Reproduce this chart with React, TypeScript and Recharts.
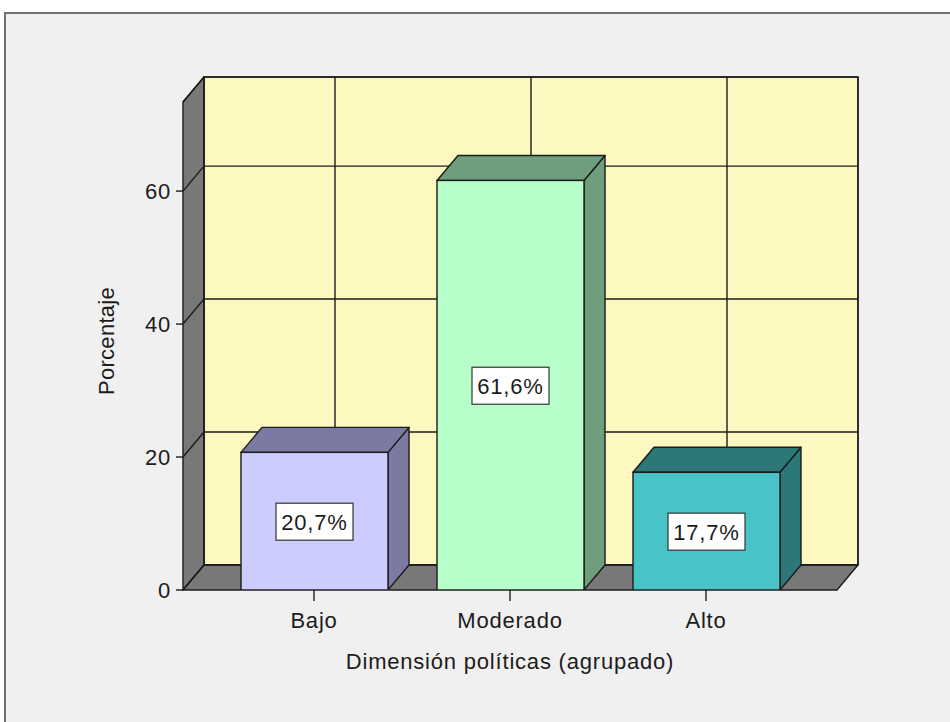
import { BarChart, Bar, XAxis, YAxis, CartesianGrid, LabelList, Label } from "recharts";

// Dimensión políticas (agrupado) — porcentaje por nivel
const categories = ["Bajo", "Moderado", "Alto"];
const percentages = [20.7, 61.6, 17.7];
const yTicks = [0, 20, 40, 60];

const frontColors = ["#CCCCFF", "#B7FECA", "#48C3C7"];
const shadeColors = ["#7B7BA2", "#6E9E7B", "#2C7778"];

const Y_MAX = 73.4;
const DX = 21;
const DY = -25;
const INK = "#1c1c1c";
const FONT = "'Liberation Sans', Arial, sans-serif";
const W = 950;
const H = 722;
const YAXIS_W = 90;
const XAXIS_H = 90;

const data = categories.map((name, i) => ({ name, value: percentages[i] }));

function renderHorizontal(p: any) {
  const { x1, x2, y1, index } = p;
  const top = p.y ?? 102;
  const bottom = top + (p.height ?? 488);
  const left = p.x ?? x1;
  const right = left + (p.width ?? x2 - x1);
  return (
    <g key={`h-${index}`}>
      {index === 0 && (
        <g>
          <rect
            x={left + DX}
            y={top + DY}
            width={right - left}
            height={bottom - top}
            fill="#FCF8BF"
            stroke={INK}
            strokeWidth={1.4}
          />
          <path
            d={`M${left},${bottom} L${left},${top} L${left + DX},${top + DY} L${left + DX},${bottom + DY} Z`}
            fill="#787878"
            stroke={INK}
            strokeWidth={1.4}
            strokeLinejoin="round"
          />
          <path
            d={`M${left},${bottom} L${right},${bottom} L${right + DX},${bottom + DY} L${left + DX},${bottom + DY} Z`}
            fill="#787878"
            stroke={INK}
            strokeWidth={1.4}
            strokeLinejoin="round"
          />
        </g>
      )}
      <path
        d={`M${x1},${y1} L${x1 + DX},${y1 + DY} L${x2 + DX},${y1 + DY}`}
        fill="none"
        stroke={INK}
        strokeWidth={1.4}
      />
    </g>
  );
}

function renderVertical(p: any) {
  const { x1, y1, y2, index } = p;
  return (
    <line
      key={`v-${index}`}
      x1={x1 + DX}
      y1={y1 + DY}
      x2={x1 + DX}
      y2={y2 + DY}
      stroke={INK}
      strokeWidth={1.4}
    />
  );
}

function Box3D(props: any) {
  const { x, y, width, height, index } = props;
  const front = frontColors[index % frontColors.length];
  const shade = shadeColors[index % shadeColors.length];
  const top = `M${x},${y} L${x + DX},${y + DY} L${x + width + DX},${y + DY} L${x + width},${y} Z`;
  const side = `M${x + width},${y} L${x + width + DX},${y + DY} L${x + width + DX},${y + height + DY} L${x + width},${y + height} Z`;
  return (
    <g>
      <path d={side} fill={shade} stroke={INK} strokeWidth={1.4} strokeLinejoin="round" />
      <path d={top} fill={shade} stroke={INK} strokeWidth={1.4} strokeLinejoin="round" />
      <rect x={x} y={y} width={width} height={height} fill={front} stroke={INK} strokeWidth={1.4} />
    </g>
  );
}

function ValueBox(props: any) {
  const vb = props.viewBox ?? props;
  const x = props.x ?? vb.x;
  const y = props.y ?? vb.y;
  const width = props.width ?? vb.width;
  const height = props.height ?? vb.height;
  const cx = x + width / 2;
  const cy = y + height / 2;
  const text = `${Number(props.value).toFixed(1).replace(".", ",")}%`;
  return (
    <g>
      <rect x={cx - 38.5} y={cy - 18} width={77} height={37} fill="#ffffff" stroke="#333" strokeWidth={1.2} />
      <text
        x={cx}
        y={cy + 9}
        textAnchor="middle"
        fontFamily={FONT}
        fontSize={22}
        letterSpacing={0.8}
        fill={INK}
      >
        {text}
      </text>
    </g>
  );
}

const tickStyle = { fontSize: 22, fill: INK, fontFamily: FONT, letterSpacing: 0.8 };

export default function App() {
  return (
    <div style={{ position: "absolute", left: 0, top: 0, width: W, height: H, background: "#fff", overflow: "hidden" }}>
      <div
        style={{
          position: "absolute",
          left: 4,
          top: 12,
          width: 1000,
          height: 800,
          background: "#F0F0F0",
          borderLeft: "2px solid #707070",
          borderTop: "2px solid #707070",
        }}
      />
      <div style={{ position: "absolute", left: 0, top: 0 }}>
        <BarChart
          width={W}
          height={H}
          data={data}
          margin={{ top: 102, right: W - 837, bottom: H - 590 - XAXIS_H, left: 183 - YAXIS_W }}
        >
          <CartesianGrid stroke={INK} horizontal={renderHorizontal} vertical={renderVertical} />
          <XAxis
            dataKey="name"
            height={XAXIS_H}
            padding={{ left: 33, right: 33 }}
            axisLine={false}
            tickLine={{ stroke: INK, strokeWidth: 1.4 }}
            tickSize={11}
            tickMargin={11}
            tick={tickStyle}
          >
            <Label
              content={(p: any) => {
                const vb = p.viewBox;
                return (
                  <text
                    x={vb.x + vb.width / 2}
                    y={vb.y + 79}
                    textAnchor="middle"
                    fontFamily={FONT}
                    fontSize={22}
                    letterSpacing={0.8}
                    fill={INK}
                  >
                    Dimensión políticas (agrupado)
                  </text>
                );
              }}
            />
          </XAxis>
          <YAxis
            type="number"
            width={YAXIS_W}
            domain={[0, Y_MAX]}
            ticks={yTicks}
            allowDataOverflow
            axisLine={false}
            tickLine={{ stroke: INK, strokeWidth: 1.4 }}
            tickSize={7}
            tickMargin={5}
            tick={tickStyle}
          >
            <Label
              content={(p: any) => {
                const vb = p.viewBox;
                const lx = vb.x + 13;
                const ly = vb.y + vb.height / 2 - 5;
                return (
                  <text
                    x={lx}
                    y={ly}
                    transform={`rotate(-90 ${lx} ${ly})`}
                    textAnchor="middle"
                    dominantBaseline="central"
                    fontFamily={FONT}
                    fontSize={22}
                    letterSpacing={0.3}
                    fill={INK}
                  >
                    Porcentaje
                  </text>
                );
              }}
            />
          </YAxis>
          <Bar dataKey="value" barSize={147} shape={Box3D} isAnimationActive={false}>
            <LabelList dataKey="value" content={ValueBox} />
          </Bar>
        </BarChart>
      </div>
    </div>
  );
}
